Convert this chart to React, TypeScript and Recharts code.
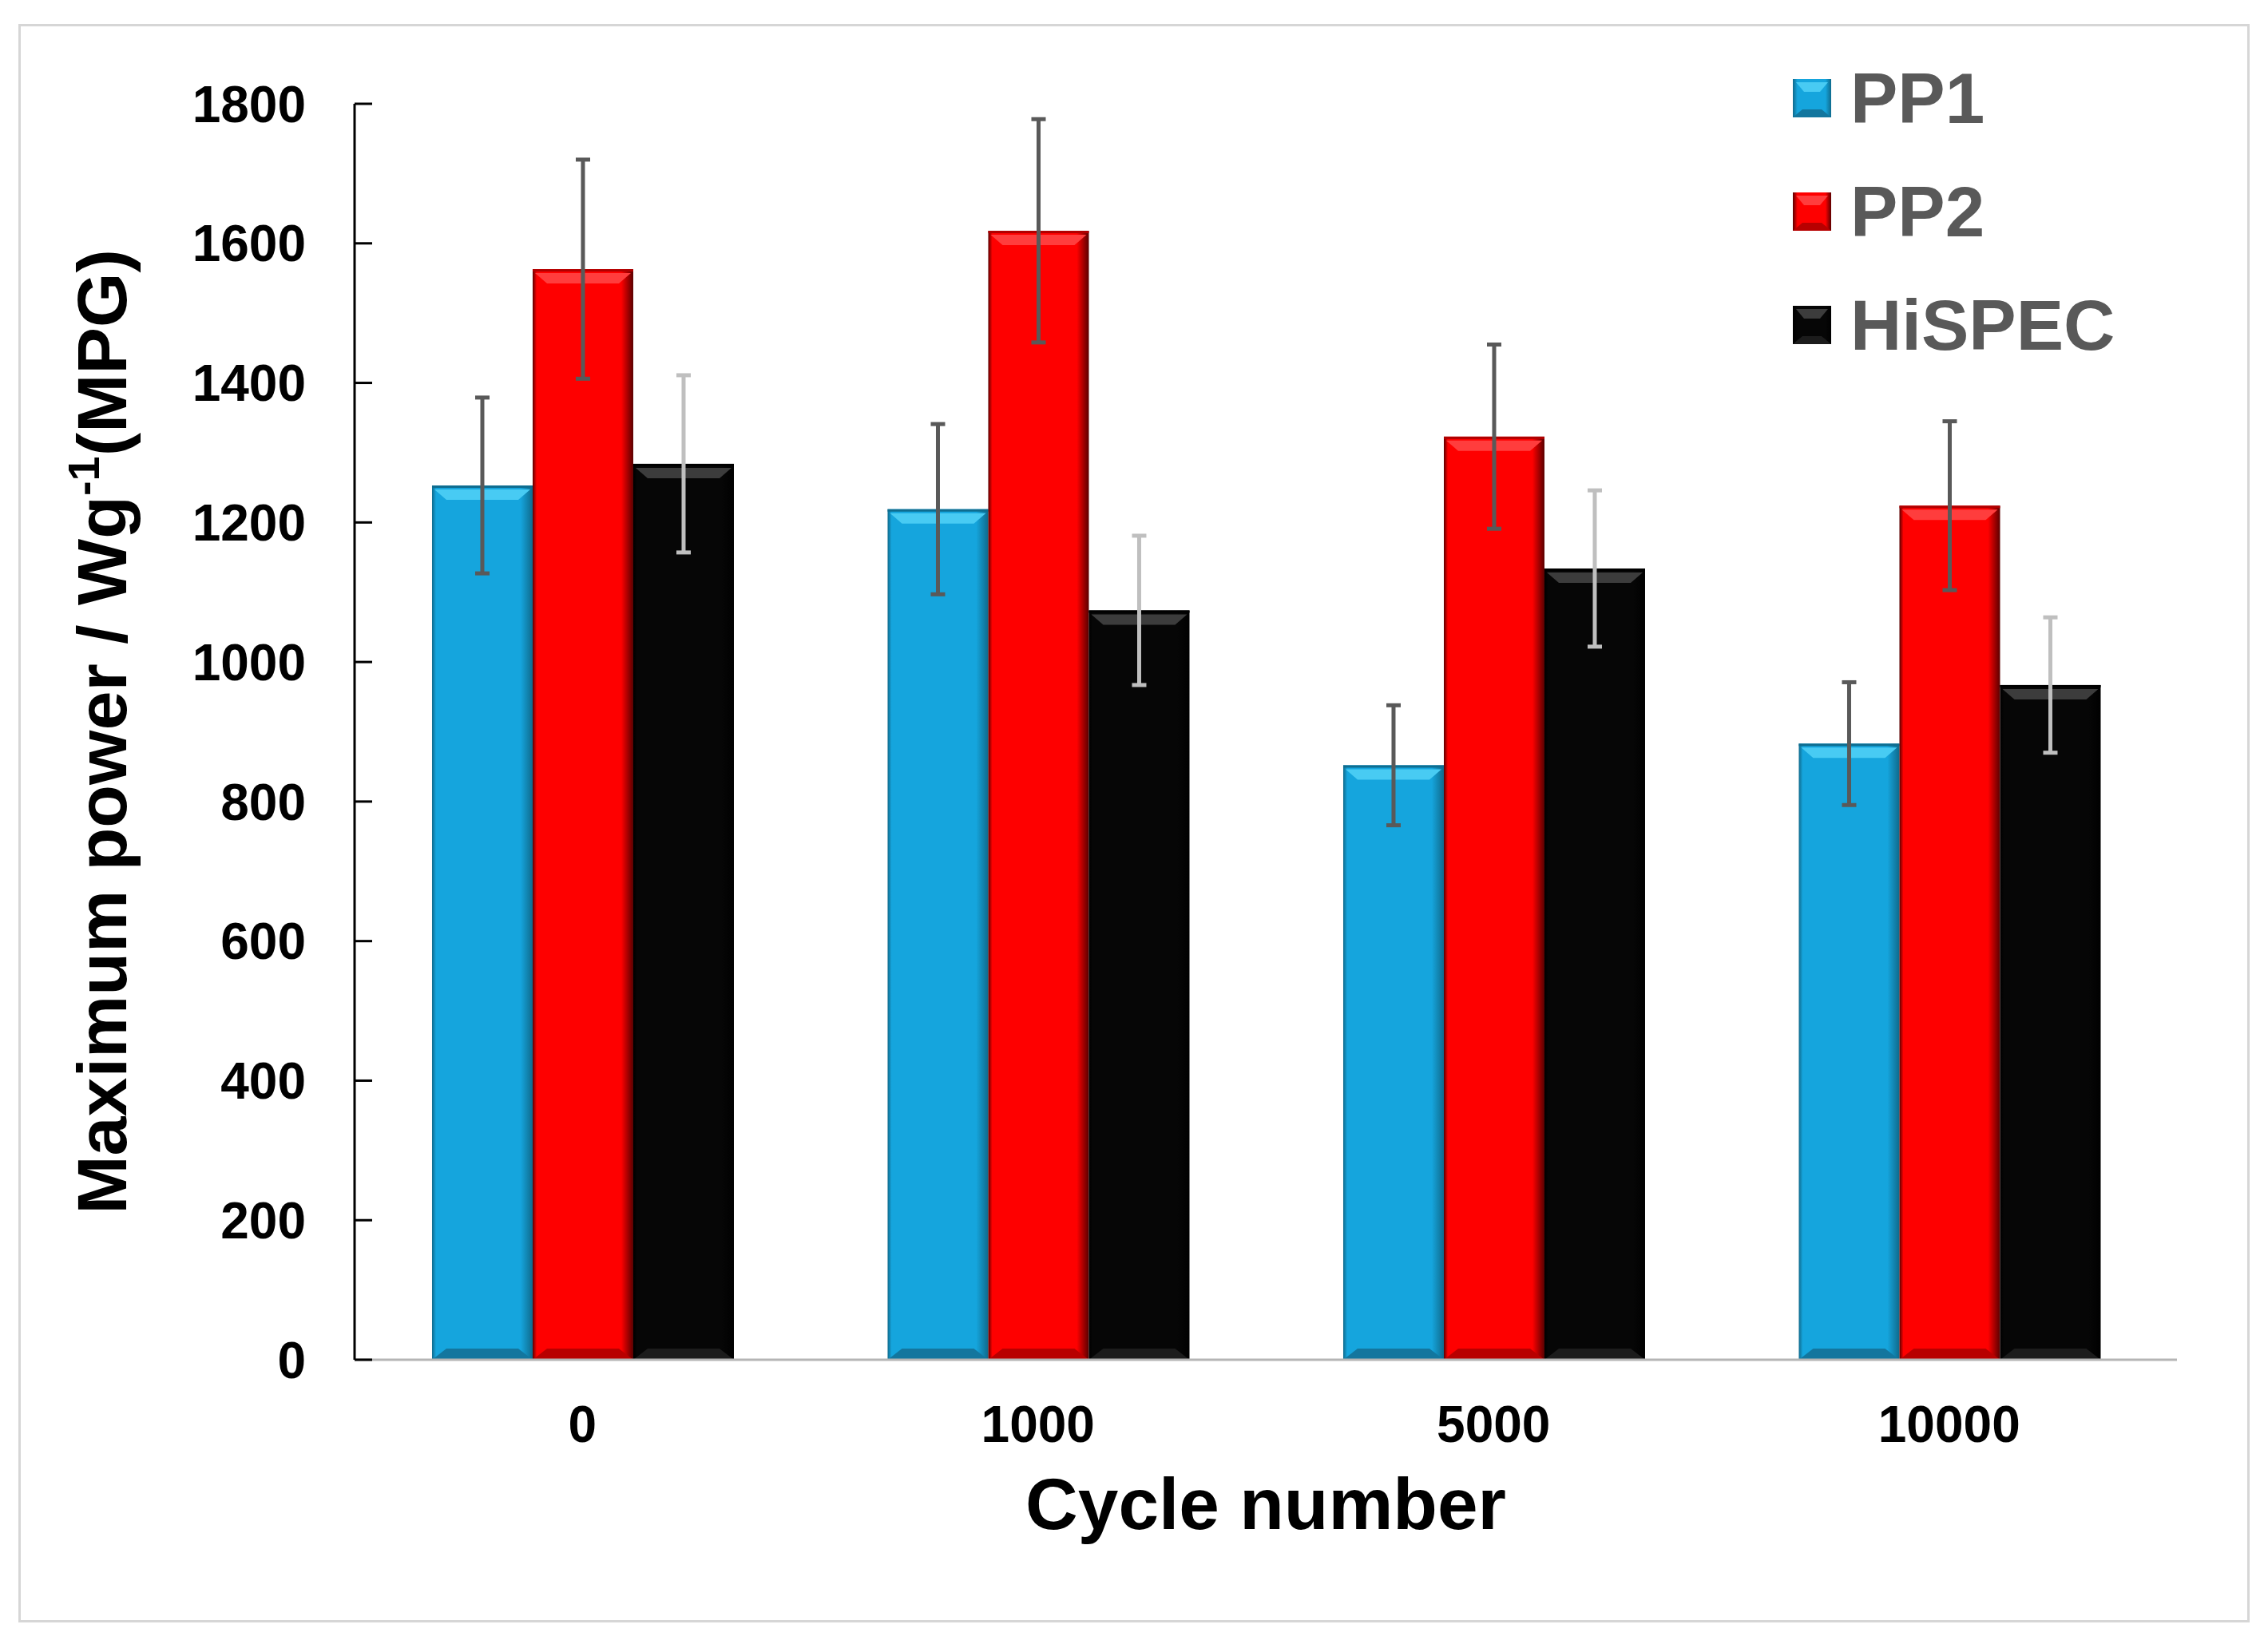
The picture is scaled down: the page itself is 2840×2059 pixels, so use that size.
import { Bar, BarChart, ErrorBar, Label, Legend, XAxis, YAxis } from 'recharts';

const cycles = ['0', '1000', '5000', '10000'];
const pp1 = [1253, 1219, 852, 883];
const pp1Err = [126, 122, 86, 88];
const pp2 = [1563, 1618, 1323, 1224];
const pp2Err = [157, 160, 132, 121];
const hispec = [1284, 1074, 1134, 967];
const hispecErr = [127, 107, 112, 97];
const yTicks = [0, 200, 400, 600, 800, 1000, 1200, 1400, 1600, 1800];

const FONT = '"Liberation Sans", Arial, sans-serif';

const data = cycles.map((c, i) => ({
  cycle: c,
  PP1: pp1[i],
  PP1err: pp1Err[i],
  PP2: pp2[i],
  PP2err: pp2Err[i],
  HiSPEC: hispec[i],
  HiSPECerr: hispecErr[i],
}));

interface Tone {
  id: string;
  main: string;
  light: string;
  edge: string;
  side: string;
  bottom: string;
  errColor: string;
}

const TONES: Record<string, Tone> = {
  PP1: { id: 'pp1', main: '#15a5dd', light: '#48cbf3', edge: '#0e6d90', side: '#0f6a8c', bottom: '#13769e', errColor: '#595959' },
  PP2: { id: 'pp2', main: '#fe0000', light: '#ff3d3d', edge: '#b00000', side: '#5a0000', bottom: '#b80000', errColor: '#595959' },
  HiSPEC: { id: 'hispec', main: '#060606', light: '#3c3c3c', edge: '#000000', side: '#000000', bottom: '#1c1c1c', errColor: '#bfbfbf' },
};

// bar with a light bevel on top and a darker band at the base
const bevelBar = (tone: Tone) => (props: any) => {
  const { x, y, width: w, height: h } = props;
  if (!h || h <= 0) return <g />;
  const b = 18;
  return (
    <g>
      <rect x={x} y={y} width={w} height={h} fill={`url(#side-${tone.id})`} />
      <rect x={x} y={y} width={w} height={3} fill={tone.edge} />
      <polygon
        points={`${x + 3},${y + 5} ${x + w - 3},${y + 5} ${x + w - b},${y + 5 + 13} ${x + b},${y + 5 + 13}`}
        fill={tone.light}
      />
      <polygon
        points={`${x + b},${y + h - 14} ${x + w - b},${y + h - 14} ${x + w},${y + h} ${x},${y + h}`}
        fill={tone.bottom}
      />
    </g>
  );
};

function LegendSquare({ tone }: { tone: Tone }) {
  return (
    <svg width={48} height={48}>
      <defs>
        <linearGradient id={`leg-${tone.id}`} x1="0" y1="0" x2="1" y2="0">
          <stop offset="0%" stopColor={tone.side} />
          <stop offset="12%" stopColor={tone.main} />
          <stop offset="85%" stopColor={tone.main} />
          <stop offset="100%" stopColor={tone.side} />
        </linearGradient>
      </defs>
      <rect x={0} y={0} width={48} height={48} fill={`url(#leg-${tone.id})`} />
      <polygon points="4,4 44,4 34,16 14,16" fill={tone.light} />
      <polygon points="12,38 36,38 48,48 0,48" fill={tone.bottom} />
    </svg>
  );
}

function renderLegend() {
  return (
    <div style={{ fontFamily: FONT }}>
      {['PP1', 'PP2', 'HiSPEC'].map((name) => (
        <div key={name} style={{ display: 'flex', alignItems: 'center', height: 142 }}>
          <LegendSquare tone={TONES[name]} />
          <span style={{ marginLeft: 24, fontSize: 89, fontWeight: 700, color: '#595959', lineHeight: 1 }}>{name}</span>
        </div>
      ))}
    </div>
  );
}

function YTitle(props: any) {
  const vb = props.viewBox || {};
  const cx = vb.x + vb.width - 286;
  const cy = vb.y + vb.height / 2;
  return (
    <text
      x={cx}
      y={cy}
      transform={`rotate(-90, ${cx}, ${cy})`}
      textAnchor="middle"
      fontFamily={FONT}
      fontWeight={700}
      fontSize={88}
      fill="#000"
    >
      Maximum power / Wg
      <tspan fontSize={56} dy={-34}>-1</tspan>
      <tspan dy={34}>(MPG)</tspan>
    </text>
  );
}

export default function App() {
  const tickStyle = { fill: '#000', fontSize: 64, fontWeight: 700, fontFamily: FONT };
  return (
    <div style={{ position: 'absolute', left: 0, top: 0, width: 2840, height: 2059, background: '#fff' }}>
      <div
        style={{
          position: 'absolute',
          left: 23,
          top: 30,
          width: 2788,
          height: 1996,
          border: '3px solid #d6d6d6',
        }}
      />
      <BarChart
        width={2840}
        height={2059}
        data={data}
        margin={{ top: 130, right: 114, left: 244, bottom: 126 }}
        barCategoryGap="17%"
        barGap={0}
      >
        <defs>
          {Object.values(TONES).map((t) => (
            <linearGradient key={t.id} id={`side-${t.id}`} x1="0" y1="0" x2="1" y2="0">
              <stop offset="0%" stopColor={t.side} />
              <stop offset="4%" stopColor={t.main} />
              <stop offset="88%" stopColor={t.main} />
              <stop offset="100%" stopColor={t.side} />
            </linearGradient>
          ))}
        </defs>
        <XAxis
          dataKey="cycle"
          height={230}
          axisLine={{ stroke: '#b5b5b5', strokeWidth: 3 }}
          tickLine={false}
          tickSize={0}
          tickMargin={58}
          tick={tickStyle}
        >
          <Label
            value="Cycle number"
            position="insideBottom"
            offset={18}
            style={{ fontFamily: FONT, fontWeight: 700, fontSize: 91, fill: '#000' }}
          />
        </XAxis>
        <YAxis
          width={200}
          domain={[0, 1800]}
          ticks={yTicks}
          interval={0}
          axisLine={{ stroke: '#000', strokeWidth: 3 }}
          tickLine={{ stroke: '#000', strokeWidth: 3 }}
          tickSize={-22}
          tickMargin={83}
          tick={tickStyle}
        >
          <Label content={YTitle} />
        </YAxis>
        <Legend
          layout="vertical"
          align="center"
          verticalAlign="middle"
          content={renderLegend}
          wrapperStyle={{ left: 2245, top: 52, width: 540 }}
        />
        <Bar dataKey="PP1" fill={TONES.PP1.main} shape={bevelBar(TONES.PP1)} isAnimationActive={false}>
          <ErrorBar dataKey="PP1err" stroke={TONES.PP1.errColor} strokeWidth={5} width={9} isAnimationActive={false} />
        </Bar>
        <Bar dataKey="PP2" fill={TONES.PP2.main} shape={bevelBar(TONES.PP2)} isAnimationActive={false}>
          <ErrorBar dataKey="PP2err" stroke={TONES.PP2.errColor} strokeWidth={5} width={9} isAnimationActive={false} />
        </Bar>
        <Bar dataKey="HiSPEC" fill={TONES.HiSPEC.main} shape={bevelBar(TONES.HiSPEC)} isAnimationActive={false}>
          <ErrorBar dataKey="HiSPECerr" stroke={TONES.HiSPEC.errColor} strokeWidth={5} width={9} isAnimationActive={false} />
        </Bar>
      </BarChart>
    </div>
  );
}
